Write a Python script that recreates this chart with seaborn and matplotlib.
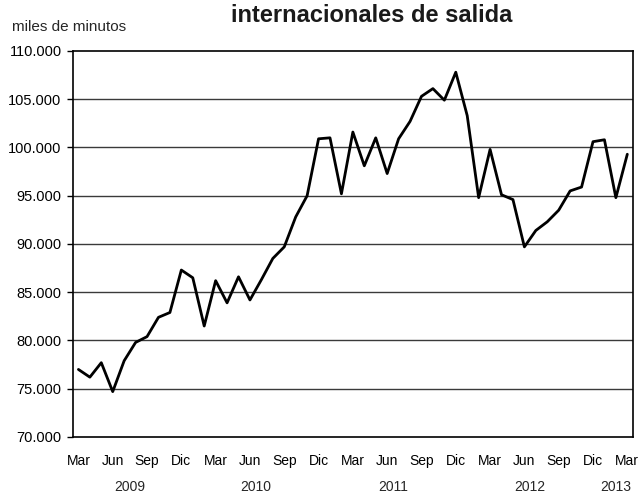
import numpy as np
import pandas as pd
import matplotlib
matplotlib.use('Agg')
import matplotlib.pyplot as plt
import matplotlib.ticker as mticker
import seaborn as sns

# ── Datos: tráfico internacional de salida (miles de minutos), mar-2009 a mar-2013
periodos = pd.period_range('2009-03', '2013-03', freq='M')
minutos = [
    77.0, 76.2, 77.7, 74.7, 77.9, 79.8, 80.4, 82.4, 82.9, 87.3,   # 2009
    86.5, 81.5, 86.2, 83.9, 86.6, 84.2, 86.3, 88.5, 89.7, 92.8, 95.0, 100.9,  # 2010
    101.0, 95.2, 101.6, 98.1, 101.0, 97.3, 100.9, 102.7, 105.3, 106.1, 104.9, 107.8,  # 2011
    103.3, 94.8, 99.8, 95.1, 94.6, 89.7, 91.4, 92.3, 93.5, 95.5, 95.9, 100.6,  # 2012
    100.8, 94.8, 99.3,  # 2013
]
etiquetas_mes = ['Mar', 'Jun', 'Sep', 'Dic'] * 4 + ['Mar']
anios = ['2009', '2010', '2011', '2012', '2013']

df = pd.DataFrame({'idx': np.arange(len(periodos)),
                   'anio': periodos.year.astype(str),
                   'valor': np.array(minutos) * 1000})

sns.set_style('white')
plt.rcParams['font.family'] = ['Liberation Sans', 'DejaVu Sans']

fig = plt.figure(figsize=(6.4, 4.93), dpi=100)
ax = fig.add_axes([0.1136, 0.1136, 0.8755, 0.783])

for y in range(75000, 110000, 5000):
    ax.axhline(y, color='#3a3a3a', lw=1.0, zorder=1)

sns.lineplot(data=df, x='idx', y='valor', color='black', lw=2.0, ax=ax, zorder=3)

ax.set_ylim(70000, 110000)
ax.set_xlim(-0.5, len(periodos) - 0.5)
ax.yaxis.set_major_locator(mticker.MultipleLocator(5000))
ax.yaxis.set_major_formatter(mticker.FuncFormatter(lambda v, p: f'{int(v):,}'.replace(',', '.')))
ax.set_xticks(np.arange(0, len(periodos), 3))
ax.set_xticklabels(etiquetas_mes)
ax.tick_params(axis='x', length=0, pad=12, labelsize=10, colors='black')
ax.tick_params(axis='y', left=True, length=4, width=1, direction='out', pad=4,
               labelsize=10.5, colors='black')
ax.set_xlabel('')
ax.set_ylabel('')
for s in ax.spines.values():
    s.set_color('black')
    s.set_linewidth(1.2)

# etiquetas de año centradas bajo cada grupo de meses
for a in anios:
    pos = df.loc[df['anio'] == a, 'idx'].mean()
    ax.text(pos, -0.13, a, transform=ax.get_xaxis_transform(),
            ha='center', va='center', fontsize=10)

fig.text(0.018, 0.938, 'miles de minutos', ha='left', va='baseline', fontsize=11)
fig.text(0.58, 0.955, 'internacionales de salida', ha='center', va='baseline',
         fontsize=17, fontweight='bold', color='#1a1a1a')

fig.savefig('out.png', dpi=100)
